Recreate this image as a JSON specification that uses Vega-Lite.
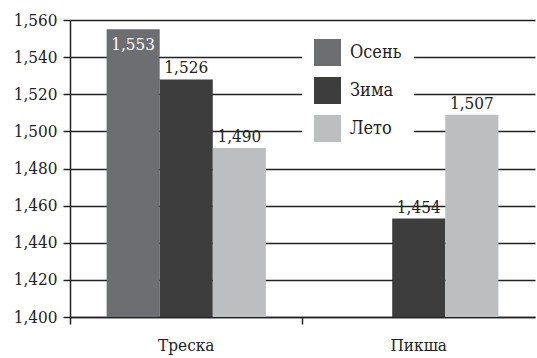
{
  "$schema": "https://vega.github.io/schema/vega-lite/v6.json",
  "width": 465,
  "height": 297,
  "autosize": "none",
  "padding": {"left": 70, "top": 20, "right": 2, "bottom": 41},
  "background": "white",
  "config": {
    "font": "DejaVu Serif Condensed",
    "view": {"stroke": null}
  },
  "data": {
    "values": [
      {"fish": "Треска", "season": "Осень", "value": 1555, "label": 1553},
      {"fish": "Треска", "season": "Зима", "value": 1528, "label": 1526},
      {"fish": "Треска", "season": "Лето", "value": 1491, "label": 1490},
      {"fish": "Пикша", "season": "Зима", "value": 1453, "label": 1454},
      {"fish": "Пикша", "season": "Лето", "value": 1509, "label": 1507}
    ]
  },
  "encoding": {
    "x": {
      "field": "fish", "type": "nominal", "sort": ["Треска", "Пикша"],
      "scale": {"paddingInner": 0, "paddingOuter": 0},
      "axis": {
        "title": null, "labelAngle": 0, "labelFontSize": 17, "labelColor": "#222",
        "labelFont": "DejaVu Serif Condensed",
        "domainColor": "#222", "domainWidth": 1.5, "tickColor": "#222", "tickWidth": 1.5,
        "tickSize": 7, "bandPosition": 0, "labelPadding": 13, "grid": false
      }
    },
    "xOffset": {
      "field": "season", "type": "nominal", "sort": ["Осень", "Зима", "Лето"],
      "scale": {"paddingInner": 0, "paddingOuter": 0.69}
    },
    "y": {
      "field": "value", "type": "quantitative",
      "scale": {"domain": [1400, 1560], "zero": false, "nice": false},
      "axis": {
        "title": null, "values": [1400, 1420, 1440, 1460, 1480, 1500, 1520, 1540, 1560],
        "format": ",d", "labelFontSize": 17, "labelColor": "#222", "labelPadding": 6,
        "labelFont": "DejaVu Serif Condensed",
        "tickSize": 7, "tickColor": "#222", "tickWidth": 1.5,
        "domainColor": "#222", "domainWidth": 1.5,
        "grid": true, "gridColor": "#222", "gridWidth": 1.3, "gridOpacity": 1
      }
    }
  },
  "layer": [
    {
      "mark": {"type": "bar"},
      "encoding": {
        "y2": {"datum": 1400},
        "color": {
          "field": "season", "type": "nominal",
          "scale": {"domain": ["Осень", "Зима", "Лето"], "range": ["#6d6e71", "#3d3d3d", "#bcbec0"]},
          "legend": {
            "title": null, "orient": "none", "legendX": 232, "legendY": 7,
            "fillColor": "white", "padding": 12, "symbolType": "square", "symbolSize": 729,
            "symbolStrokeWidth": 0, "symbolOpacity": 1, "labelFontSize": 18, "labelColor": "#222",
            "labelFont": "DejaVu Serif Condensed",
            "labelOffset": 9, "rowPadding": 11, "offset": 0
          }
        }
      }
    },
    {
      "transform": [{"filter": "datum.season === 'Осень'"}],
      "mark": {"type": "text", "baseline": "top", "dy": 8, "fontSize": 17, "color": "white", "font": "DejaVu Serif Condensed"},
      "encoding": {"text": {"field": "label", "type": "quantitative", "format": ",d"}}
    },
    {
      "transform": [{"filter": "datum.season !== 'Осень'"}],
      "mark": {"type": "text", "baseline": "bottom", "dy": -2, "fontSize": 17, "color": "#222", "font": "DejaVu Serif Condensed"},
      "encoding": {"text": {"field": "label", "type": "quantitative", "format": ",d"}}
    }
  ]
}
